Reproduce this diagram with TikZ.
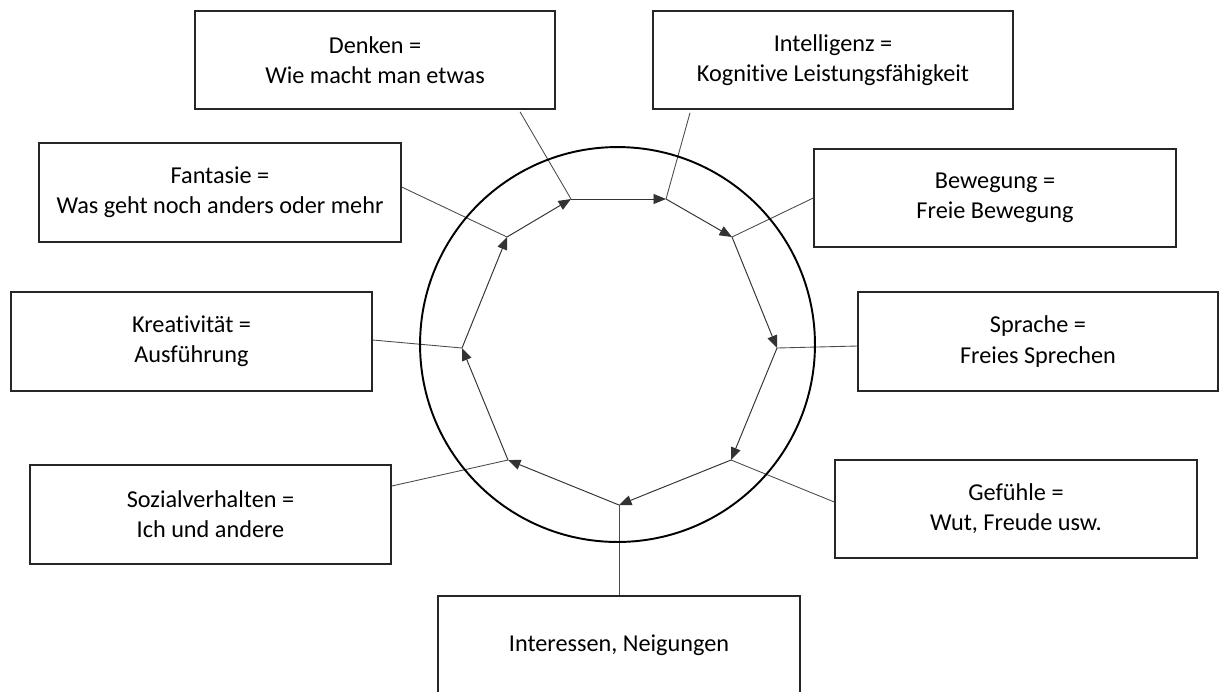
\documentclass[tikz,border=0pt]{standalone}
\usepackage{fontspec}
\setmainfont[Ligatures=NoCommon]{Carlito}
\usepackage{tikz}
\usetikzlibrary{arrows.meta}

\begin{document}
\begin{tikzpicture}[
        x=0.02cm, y=-0.02cm,
        every node/.style={font=\fontsize{13.8}{17.2}\selectfont},
        box/.style={draw=black!85, line width=0.85pt, align=center,
                inner sep=0pt, minimum width=7.22cm, minimum height=1.96cm},
        link/.style={draw=black!70, line width=0.5pt},
        flow/.style={draw=black!80, line width=0.55pt,
                -{Triangle[length=0.25cm, width=0.2cm]}},
        ring/.style={draw=black, line width=1.1pt}
    ]

    \useasboundingbox (0,0) rectangle (1219,691);

    % =============== Kästen ===============
    \node[box, minimum width=7.20cm] (denken) at (375,60)
    {Denken =\\Wie macht man etwas};
    \node[box, minimum width=7.20cm] (intel) at (833,60)
    {Intelligenz =\\Kognitive Leistungsfähigkeit};
    \node[box, minimum width=7.24cm, minimum height=1.98cm] (fantasie) at (220,192.5)
    {Fantasie =\\Was geht noch anders oder mehr};
    \node[box, minimum width=7.24cm] (beweg) at (995,198)
    {Bewegung =\\Freie Bewegung};
    \node[box, minimum height=1.98cm] (kreativ) at (191.5,341.5)
    {Kreativität =\\Ausführung};
    \node[box, minimum width=7.20cm, minimum height=1.98cm] (sprache) at (1038,341.5)
    {Sprache =\\Freies Sprechen};
    \node[box, minimum height=1.98cm] (sozial) at (210.5,514.5)
    {Sozialverhalten =\\Ich und andere};
    \node[box, minimum width=7.24cm] (gefuehl) at (1016,509)
    {Gefühle =\\Wut, Freude usw.};
    \node[box, minimum width=7.24cm] (interesse) at (619,645)
    {Interessen, Neigungen};

    % =============== Ecken des Kreislaufs ===============
    \coordinate (p1) at (571,199);
    \coordinate (p2) at (666,199);
    \coordinate (p3) at (732,237);
    \coordinate (p4) at (777,348);
    \coordinate (p5) at (731,460);
    \coordinate (p6) at (619,505);
    \coordinate (p7) at (508,460);
    \coordinate (p8) at (462,348);
    \coordinate (p9) at (507,237);

    % =============== Verbindungen ===============
    \draw[link] ([xshift=2.90cm, yshift=-0.04cm]denken.south) -- (p1);
    \draw[link] ([xshift=-2.86cm, yshift=-0.06cm]intel.south) -- (p2);
    \draw[link] (beweg.west) -- (p3);
    \draw[link] ([yshift=-0.09cm]sprache.west) -- (p4);
    \draw[link] ([yshift=0.14cm]gefuehl.west) -- (p5);
    \draw[link] (interesse.north) -- (p6);
    \draw[link] ([yshift=0.57cm]sozial.east) -- (p7);
    \draw[link] ([yshift=0.03cm]kreativ.east) -- (p8);
    \draw[link] ([yshift=0.11cm]fantasie.east) -- (p9);

    % =============== Kreis ===============
    \draw[ring] (617.5,344.5) circle[radius=3.95cm];

    % =============== Pfeile im Uhrzeigersinn ===============
    \foreach \a/\b in {p9/p1, p1/p2, p2/p3, p3/p4, p4/p5, p5/p6, p6/p7, p7/p8, p8/p9}
    \draw[flow] (\a) -- (\b);

\end{tikzpicture}
\end{document}
